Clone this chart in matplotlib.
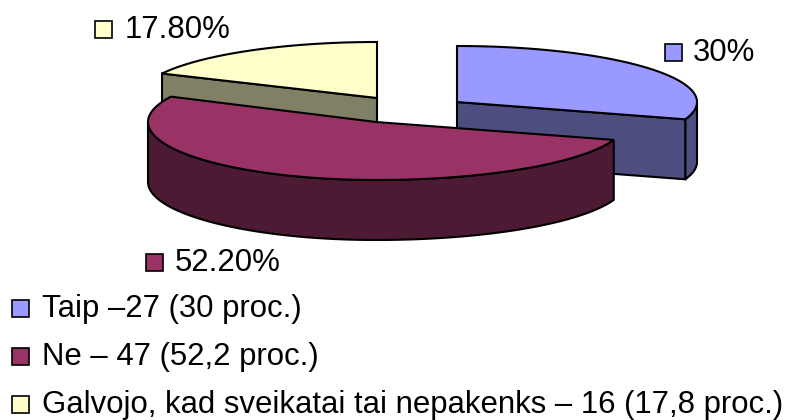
import numpy as np
import matplotlib
matplotlib.use("Agg")
import matplotlib.pyplot as plt
from matplotlib.patches import Polygon, Rectangle

plt.rcParams['font.family'] = ['Liberation Sans', 'DejaVu Sans']

# --- Data ---
shares = [30.0, 52.2, 17.8]
pie_labels = ["30%", "52.20%", "17.80%"]
legend_labels = ["Taip –27 (30 proc.)", "Ne – 47 (52,2 proc.)",
                 "Galvojo, kad sveikatai tai nepakenks – 16 (17,8 proc.)"]

top_colors = ["#9999FF", "#993366", "#FFFFCC"]
side_colors = ["#4D4D80", "#4D1A33", "#808066"]

# --- Fake 3D geometry (pixels), slices are pulled out of the pie ---
centers = [(457, 102), (376, 122), (377, 98)]
radii_x = [(240, 240), (250, 228), (239, 239)]  # right, left
radius_y = [56, 58, 56]
depth = 60
FS = 22.4
LW = 1.5


def rim(i, a0, a1):
    # a is degrees clockwise from 12 o'clock
    a = np.radians(np.linspace(a0, a1, 120))
    cx, cy = centers[i]
    rx = np.where(np.sin(a) >= 0, radii_x[i][0], radii_x[i][1])
    return np.column_stack([cx + rx * np.sin(a), cy - radius_y[i] * np.cos(a)])


def draw_wall(ax, pts, color):
    low = pts[::-1] + [0, depth]
    ax.add_patch(Polygon(np.vstack([pts, low]), closed=True, fc=color, ec="black", lw=LW))


fig = plt.figure(figsize=(7.87, 4.2), dpi=100)
ax = fig.add_axes([0, 0, 1, 1])
ax.set_xlim(0, 787)
ax.set_ylim(420, 0)
ax.axis("off")

edges = np.cumsum([0] + shares) / sum(shares) * 360
order = [2, 0, 1]  # back slices first
for i in order:
    a0, a1 = edges[i], edges[i + 1]
    pts = rim(i, a0, a1)
    apex = np.array([centers[i]], dtype=float)
    if i == 0:
        # cut face towards the viewer, then the short outer wall
        draw_wall(ax, rim(i, 90, a1), side_colors[i])
        draw_wall(ax, np.vstack([apex, pts[-1:]]), side_colors[i])
    elif i == 1:
        draw_wall(ax, rim(i, a0, 270), side_colors[i])
    else:
        draw_wall(ax, np.vstack([pts[:1], apex]), side_colors[i])
    ax.add_patch(Polygon(np.vstack([apex, pts]), closed=True, fc=top_colors[i], ec="black", lw=LW))


def key(x, y, size, color, label, tx):
    ax.add_patch(Rectangle((x, y), size, size, fc=color, ec="black", lw=1.2))
    ax.text(tx, y + size, label, fontsize=FS, color="black", va="baseline", ha="left")


# --- Labels next to slices ---
key(665, 44, 17, top_colors[0], pie_labels[0], 693)
key(146, 254, 17, top_colors[1], pie_labels[1], 175)
key(95, 21, 17, top_colors[2], pie_labels[2], 125)

# --- Legend ---
key(12, 300, 17, top_colors[0], legend_labels[0], 42)
key(12, 348, 17, top_colors[1], legend_labels[1], 42)
key(12, 396, 17, top_colors[2], legend_labels[2], 42)

fig.savefig("out.png", dpi=100)
